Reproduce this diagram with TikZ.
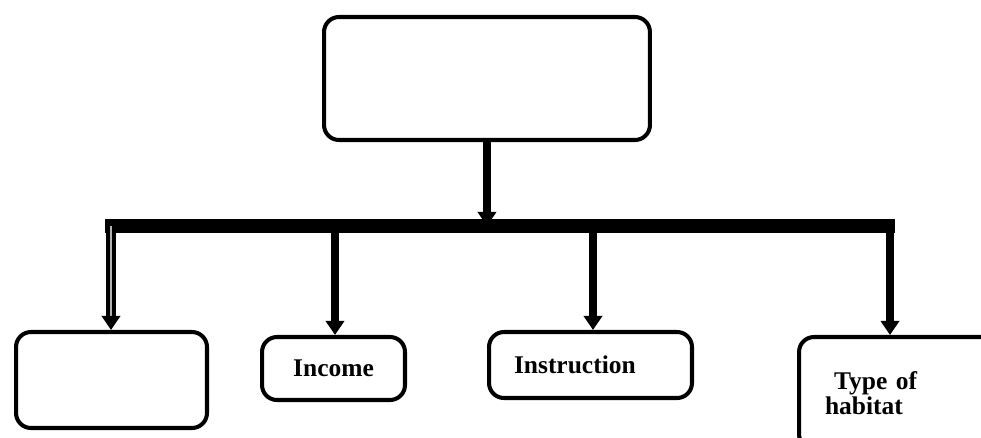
\documentclass[tikz,border=0pt]{standalone}
\usepackage{fontspec}
\setmainfont{Liberation Serif}
\usetikzlibrary{arrows.meta}
\begin{document}
\begin{tikzpicture}[x=0.02cm,y=-0.02cm,
  box/.style={draw,line width=2.3pt,rounded corners=0.3cm,inner sep=0pt,anchor=north west,
    font=\fontsize{14.5}{14.2}\selectfont\bfseries},
  feed/.style={line width=4.8pt,-{Triangle[width=0.36cm,length=0.28cm]}}]
  \clip (0,0) rectangle (981,438);
  \node[box,minimum width=6.52cm,minimum height=2.46cm] (top) at (322,15) {};
  \node[box,minimum width=3.82cm,minimum height=1.92cm] (left) at (14,330) {};
  \node[box,minimum width=2.86cm,minimum height=1.26cm] (income) at (260,335) {Income};
  \node[box,text width=3.06cm,inner xsep=0.5cm,align=left,minimum height=1.32cm] (instr) at (487,330) {Instruction};
  \node[box,text width=3.26cm,inner xsep=0.52cm,align=left,minimum height=2.24cm] (habitat) at (797,335)
    {\hspace{0.18cm}Type of\\habitat};
  \coordinate (barL) at (105,226);
  \coordinate (barR) at (895,226);
  \draw[feed] (top.south) -- (top.south |- barL);
  \draw[line width=8.5pt] (barL) -- (barR);
  \coordinate (d1) at (111,226);
  \coordinate (d2) at (335,226);
  \coordinate (d3) at (593,226);
  \coordinate (d4) at (890,226);
  \draw[feed,line width=2.3pt,double=gray!60,double distance=1.1pt] (d1) -- (d1 |- left.north);
  \draw[feed] (d2) -- (d2 |- income.north);
  \draw[feed] (d3) -- (d3 |- instr.north);
  \draw[feed] (d4) -- (d4 |- habitat.north);
\end{tikzpicture}
\end{document}
